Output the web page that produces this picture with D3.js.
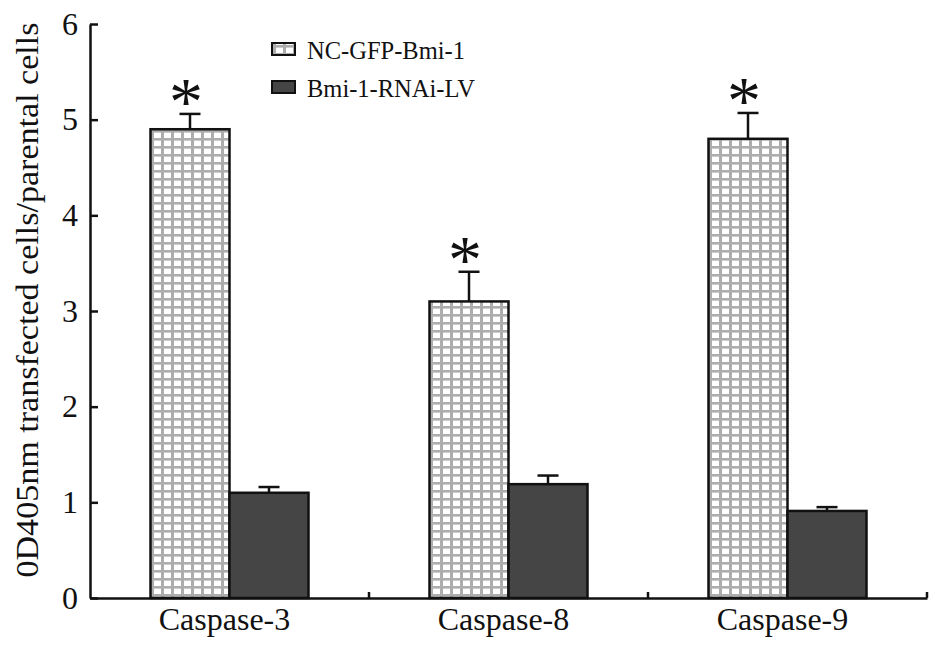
<!DOCTYPE html>
<html>
<head>
<meta charset="utf-8">
<script src="https://cdn.jsdelivr.net/npm/d3@7"></script>
<style>
  html, body { margin: 0; padding: 0; background: #fff; }
  svg { display: block; }
  text { font-family: "Liberation Serif", "Times New Roman", serif; fill: #111; }
</style>
</head>
<body>
<svg id="chart" width="945" height="653"></svg>
<script>
// ---- Data ----
const categories = ["Caspase-3", "Caspase-8", "Caspase-9"];
const seriesNames = ["NC-GFP-Bmi-1", "Bmi-1-RNAi-LV"];
const ncValues   = [4.90, 3.10, 4.80];
const ncErrors   = [0.16, 0.31, 0.27];
const rnaiValues = [1.10, 1.19, 0.91];
const rnaiErrors = [0.06, 0.09, 0.04];
const significant = [true, true, true];
const yTicks = [0, 1, 2, 3, 4, 5, 6];
const yLabel = "0D405nm transfected cells/parental cells";

const svg = d3.select("#chart");
const W = 945, H = 653;
const margin = { top: 24, right: 18, bottom: 55, left: 90 };
const innerW = W - margin.left - margin.right;
const innerH = H - margin.top - margin.bottom;

// pattern
const defs = svg.append("defs");
const pat = defs.append("pattern")
  .attr("id", "grid").attr("patternUnits", "userSpaceOnUse")
  .attr("width", 10).attr("height", 8).attr("x", 1).attr("y", 2);
pat.append("rect").attr("width", 10).attr("height", 8).attr("fill", "#ffffff");
pat.append("rect").attr("x", 0).attr("y", 0).attr("width", 3).attr("height", 8).attr("fill", "#adadad");
pat.append("rect").attr("x", 0).attr("y", 0).attr("width", 10).attr("height", 2.6).attr("fill", "#adadad");

const g = svg.append("g").attr("transform", `translate(${margin.left},${margin.top})`);

const x0 = d3.scaleBand().domain(categories).range([0, innerW]).padding(0);
const x1 = d3.scaleBand().domain(seriesNames).range([60.5, x0.bandwidth() - 60.5]).padding(0);
const y = d3.scaleLinear().domain([0, 6]).range([innerH, 0]);

const data = categories.map((c, i) => ({
  cat: c,
  bars: [
    { s: seriesNames[0], v: ncValues[i], e: ncErrors[i] },
    { s: seriesNames[1], v: rnaiValues[i], e: rnaiErrors[i] }
  ],
  sig: significant[i]
}));

const fills = { [seriesNames[0]]: "url(#grid)", [seriesNames[1]]: "#454545" };

const groups = g.selectAll(".grp").data(data).enter().append("g")
  .attr("transform", d => `translate(${x0(d.cat)},0)`);

// error bars (upward only)
groups.selectAll(".err").data(d => d.bars).enter().append("g").each(function(d) {
  const cx = x1(d.s) + x1.bandwidth() / 2;
  const sel = d3.select(this);
  sel.append("line").attr("x1", cx).attr("x2", cx)
    .attr("y1", y(d.v)).attr("y2", y(d.v + d.e))
    .attr("stroke", "#111").attr("stroke-width", 2.5);
  sel.append("line").attr("x1", cx - 10.5).attr("x2", cx + 10.5)
    .attr("y1", y(d.v + d.e)).attr("y2", y(d.v + d.e))
    .attr("stroke", "#111").attr("stroke-width", 2.5);
});

// bars
groups.selectAll(".bar").data(d => d.bars).enter().append("rect")
  .attr("x", d => x1(d.s))
  .attr("y", d => y(d.v))
  .attr("width", x1.bandwidth())
  .attr("height", d => y(0) - y(d.v))
  .attr("fill", d => fills[d.s])
  .attr("stroke", "#111").attr("stroke-width", 2.5);

// asterisks
groups.filter(d => d.sig).append("text")
  .attr("x", d => x1(seriesNames[0]) + x1.bandwidth() / 2 - 4)
  .attr("y", d => y(d.bars[0].v + d.bars[0].e) + 10)
  .attr("text-anchor", "middle")
  .attr("font-size", 68)
  .attr("fill", (d, i) => i === 2 ? "#444" : "#111")
  .text("*");

// y axis
const yAxis = d3.axisLeft(y).tickValues(yTicks).tickSize(-8).tickSizeOuter(0).tickPadding(12)
  .tickFormat(d3.format("d"));
const ya = g.append("g").call(yAxis);
ya.select(".domain").attr("stroke", "#111").attr("stroke-width", 2.5);
ya.selectAll(".tick line").attr("stroke", "#111").attr("stroke-width", 2.5);
ya.selectAll(".tick text").attr("font-size", 32).attr("font-family", "Liberation Serif").attr("fill", "#111");

// x axis
const xAxis = d3.axisBottom(x0).tickSize(0).tickSizeOuter(0).tickPadding(9);
const xa = g.append("g").attr("transform", `translate(0,${innerH})`).call(xAxis);
xa.select(".domain").attr("stroke", "#111").attr("stroke-width", 2.5);
xa.selectAll(".tick text").attr("font-size", 32).attr("font-family", "Liberation Serif")
  .attr("fill", "#111").attr("dx", -5);
// boundary ticks pointing up
const bounds = categories.slice(1).map(c => x0(c)).concat([innerW]);
xa.selectAll(".btick").data(bounds).enter().append("line")
  .attr("x1", d => d).attr("x2", d => d).attr("y1", 0).attr("y2", -6)
  .attr("stroke", "#111").attr("stroke-width", 2.5);

// y label
svg.append("text")
  .attr("transform", `translate(38,${300}) rotate(-90)`)
  .attr("text-anchor", "middle")
  .attr("font-size", 31)
  .attr("textLength", 555).attr("lengthAdjust", "spacingAndGlyphs")
  .text(yLabel);

// legend
const legend = svg.append("g").attr("transform", "translate(272,43)");
seriesNames.forEach((s, i) => {
  const row = legend.append("g").attr("transform", `translate(0,${i * 38})`);
  row.append("rect").attr("x", 0).attr("y", 0).attr("width", 23).attr("height", 12)
    .attr("fill", fills[s]).attr("stroke", "#111").attr("stroke-width", 2);
  row.append("text").attr("x", 35).attr("y", 16).attr("font-size", 24.5).text(s);
});
</script>
</body>
</html>
